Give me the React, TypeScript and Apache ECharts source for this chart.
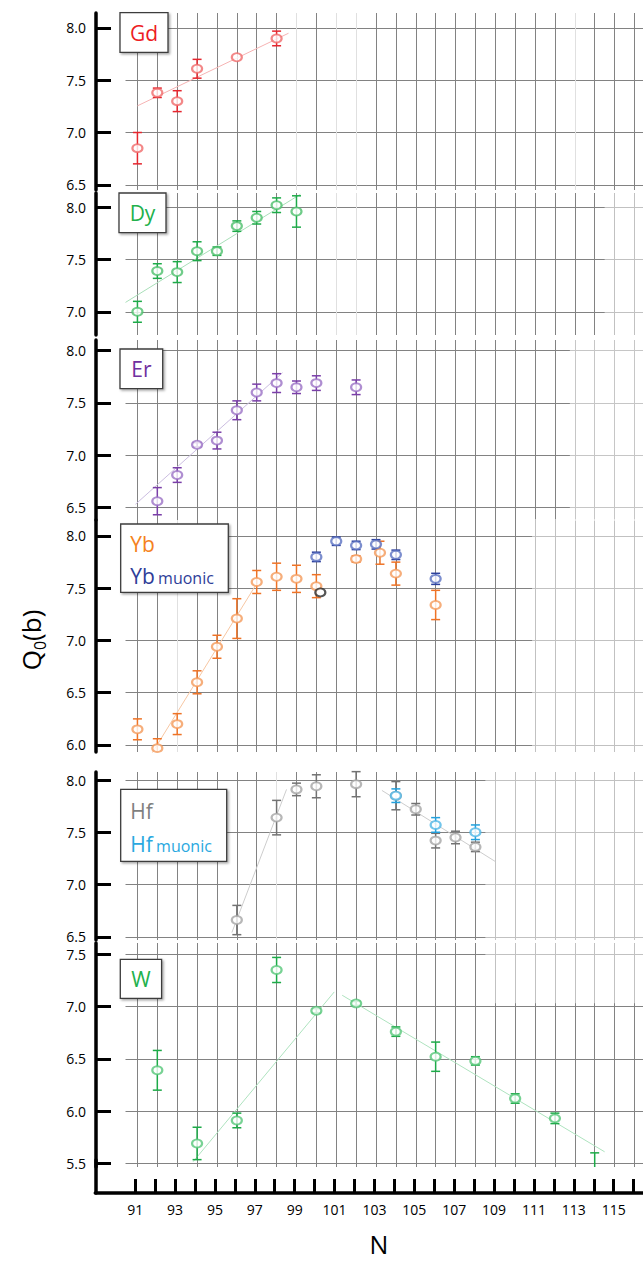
import React, { useEffect, useRef } from "react";
import * as echarts from "echarts";

const FONT = "'Open Sans', 'Noto Sans', 'DejaVu Sans', sans-serif";

// ---- Gd ----
const gdN = [91, 92, 93, 94, 96, 98];
const gdQ = [6.85, 7.38, 7.3, 7.61, 7.72, 7.9];
const gdErr = [0.15, 0.045, 0.1, 0.09, 0, 0.07];
const gdFit = [[91, 7.255], [98.6, 7.95]];

// ---- Dy ----
const dyN = [91, 92, 93, 94, 95, 96, 97, 98, 99];
const dyQ = [7.0, 7.39, 7.38, 7.58, 7.58, 7.82, 7.9, 8.02, 7.96];
const dyErr = [0.1, 0.07, 0.1, 0.09, 0.04, 0.05, 0.06, 0.07, 0.15];
const dyFit = [[90.4, 7.09], [99.2, 8.125]];

// ---- Er ----
const erN = [92, 93, 94, 95, 96, 97, 98, 99, 100, 102];
const erQ = [6.56, 6.81, 7.1, 7.14, 7.43, 7.6, 7.69, 7.65, 7.69, 7.65];
const erErr = [0.13, 0.07, 0.02, 0.08, 0.09, 0.08, 0.09, 0.06, 0.07, 0.07];
const erFit = [[90.9, 6.53], [98.3, 7.79]];

// ---- Yb ----
const ybN = [91, 92, 93, 94, 95, 96, 97, 98, 99, 100, 102, 103.2, 104, 106];
const ybQ = [6.15, 5.97, 6.2, 6.6, 6.94, 7.21, 7.56, 7.61, 7.59, 7.52, 7.78, 7.84, 7.64, 7.34];
const ybErr = [0.1, 0.09, 0.1, 0.11, 0.11, 0.19, 0.11, 0.13, 0.13, 0.11, 0.03, 0.11, 0.11, 0.14];
const ybMuN = [100, 101, 102, 103, 104, 106];
const ybMuQ = [7.8, 7.95, 7.91, 7.92, 7.82, 7.59];
const ybMuErr = [0.045, 0.04, 0.04, 0.045, 0.045, 0.053];
const ybExtraN = [100.2];
const ybExtraQ = [7.46];
const ybExtraErr = [0];
const ybFit = [[91.6, 5.88], [96.95, 7.53]];

// ---- Hf ----
const hfN = [96, 98, 99, 100, 102, 104, 105, 106, 107, 108];
const hfQ = [6.66, 7.64, 7.91, 7.94, 7.96, 7.85, 7.72, 7.42, 7.45, 7.36];
const hfErr = [0.14, 0.165, 0.06, 0.11, 0.12, 0.135, 0.055, 0.07, 0.06, 0.045];
const hfMuN = [104, 106, 108];
const hfMuQ = [7.85, 7.57, 7.5];
const hfMuErr = [0.065, 0.07, 0.07];
const hfFitA = [[95.75, 6.54], [98.5, 7.91]];
const hfFitB = [[103.3, 7.9], [109, 7.22]];

// ---- W ----
const wN = [92, 94, 96, 98, 100, 102, 104, 106, 108, 110, 112, 114];
const wQ = [6.39, 5.69, 5.91, 7.35, 6.96, 7.03, 6.76, 6.52, 6.48, 6.12, 5.93, 5.45];
const wErr = [0.19, 0.155, 0.07, 0.12, 0.02, 0.02, 0.045, 0.14, 0.04, 0.045, 0.05, 0.15];
const wFitA = [[93.8, 5.515], [100.9, 7.14]];
const wFitB = [[101.3, 7.108], [114.5, 5.61]];

// ---- axis ticks ----
const nTicks = [91, 92, 93, 94, 95, 96, 97, 98, 99, 100, 101, 102, 103, 104, 105, 106, 107, 108, 109, 110, 111, 112, 113, 114, 115, 116];
const nLabels = [91, 93, 95, 97, 99, 101, 103, 105, 107, 109, 111, 113, 115];
const qTicksHigh = [6.5, 7.0, 7.5, 8.0];
const qTicksDy = [7.0, 7.5, 8.0];
const qTicksYb = [6.0, 6.5, 7.0, 7.5, 8.0];
const qTicksW = [5.5, 6.0, 6.5, 7.0, 7.5];

const N_MIN = 90.4;
const N_MAX = 116.43;
const PANEL_LEFT = 125.5;
const AXIS_X = 96;
const GRID_COLOR = "#828282";
const FAINT_COLOR = "#e0e0e0";

type DataSet = { n: number[]; q: number[]; e: number[]; bar: string; ring: string };
type Panel = {
  top: number;
  height: number;
  min: number;
  max: number;
  ticks: number[];
  faintN: number[];
  sets: DataSet[];
  fits: number[][][];
  fitColor: string;
};

const panels: Panel[] = [
  {
    top: 13, height: 177, min: 6.4498, max: 8.1435, ticks: qTicksHigh, faintN: [99, 101, 102, 113],
    sets: [{ n: gdN, q: gdQ, e: gdErr, bar: "#e5262e", ring: "#f06a6a" }],
    fits: [gdFit], fitColor: "#f6b3b3",
  },
  {
    top: 193, height: 142, min: 6.778, max: 8.1368, ticks: qTicksDy, faintN: [101, 102],
    sets: [{ n: dyN, q: dyQ, e: dyErr, bar: "#1daa48", ring: "#4cbf6c" }],
    fits: [dyFit], fitColor: "#a9dfb9",
  },
  {
    top: 340, height: 180, min: 6.38, max: 8.1024, ticks: qTicksHigh, faintN: [],
    sets: [{ n: erN, q: erQ, e: erErr, bar: "#7a3fa8", ring: "#9b72c6" }],
    fits: [erFit], fitColor: "#cbbde0",
  },
  {
    top: 520, height: 232, min: 5.933, max: 8.1531, ticks: qTicksYb, faintN: [93],
    sets: [
      { n: ybN, q: ybQ, e: ybErr, bar: "#ee7326", ring: "#f49a5a" },
      { n: ybMuN, q: ybMuQ, e: ybMuErr, bar: "#2d419c", ring: "#5b72c2" },
      { n: ybExtraN, q: ybExtraQ, e: ybExtraErr, bar: "#222222", ring: "#2a2a2a" },
    ],
    fits: [ybFit], fitColor: "#f7c7a3",
  },
  {
    top: 772, height: 168, min: 6.4689, max: 8.0766, ticks: qTicksHigh, faintN: [98],
    sets: [
      { n: hfN, q: hfQ, e: hfErr, bar: "#727272", ring: "#a5a5a5" },
      { n: hfMuN, q: hfMuQ, e: hfMuErr, bar: "#23a0dc", ring: "#4fb6e6" },
    ],
    fits: [hfFitA, hfFitB], fitColor: "#cdcdcd",
  },
  {
    top: 943, height: 224, min: 5.4646, max: 7.6081, ticks: qTicksW, faintN: [],
    sets: [{ n: wN, q: wQ, e: wErr, bar: "#1daa48", ring: "#56c779" }],
    fits: [wFitA, wFitB], fitColor: "#aee3bf",
  },
];

// Faded stretches of the grid: [panel, N from, N to, opacity, Q from?, Q to?]
const fadeBands: [number, number, number, number, number?, number?][] = [
  [1, 114.5, N_MAX, 0.5],
  [2, 112.75, N_MAX, 0.55],
  [3, 110.85, N_MAX, 0.5],
  [4, 108.5, N_MAX, 0.5],
  [5, 108.5, N_MAX, 0.5, 7.04, 7.6081],
];

const errorBarItem = (color: string, lo: number) => (params: any, api: any) => {
  const n = api.value(0);
  const q = api.value(1);
  const e = api.value(2);
  if (!e) return null;
  const low = Math.max(q - e, lo);
  const top = api.coord([n, q + e]);
  const bot = api.coord([n, low]);
  const hw = 4.5;
  const style = { stroke: color, lineWidth: 1.5 };
  const children: any[] = [
    { type: "line", shape: { x1: top[0], y1: top[1], x2: bot[0], y2: bot[1] }, style },
    { type: "line", shape: { x1: top[0] - hw, y1: top[1], x2: top[0] + hw, y2: top[1] }, style },
  ];
  if (q - e >= lo) {
    children.push({ type: "line", shape: { x1: bot[0] - hw, y1: bot[1], x2: bot[0] + hw, y2: bot[1] }, style });
  }
  return { type: "group", children };
};

function buildOption() {
  const grid: any[] = [];
  const xAxis: any[] = [];
  const yAxis: any[] = [];
  const series: any[] = [];

  panels.forEach((p, i) => {
    grid.push({ left: PANEL_LEFT, right: 0, top: p.top, height: p.height });
    xAxis.push({
      type: "value",
      gridIndex: i,
      min: N_MIN,
      max: N_MAX,
      axisLine: { show: false },
      axisTick: { show: false, customValues: nTicks },
      axisLabel: { show: false, customValues: nTicks },
      splitLine: {
        show: true,
        lineStyle: {
          color: nTicks.map((n) => (p.faintN.includes(n) ? FAINT_COLOR : GRID_COLOR)),
          width: 1,
        },
      },
    });
    yAxis.push({
      type: "value",
      gridIndex: i,
      min: p.min,
      max: p.max,
      offset: PANEL_LEFT - AXIS_X,
      axisLine: { show: true, onZero: false, lineStyle: { color: "#000", width: 3.5 } },
      axisTick: { show: true, inside: true, length: 15, lineStyle: { color: "#000", width: 3 }, customValues: p.ticks },
      axisLabel: {
        customValues: p.ticks,
        formatter: (v: number) => v.toFixed(1),
        fontSize: 14,
        color: "#000",
        margin: 10,
        fontFamily: FONT,
      },
      splitLine: { show: true, lineStyle: { color: GRID_COLOR, width: 1 } },
    });

    p.fits.forEach((f) => {
      series.push({
        type: "line",
        xAxisIndex: i,
        yAxisIndex: i,
        data: f,
        showSymbol: false,
        symbol: "none",
        silent: true,
        z: 2,
        lineStyle: { color: p.fitColor, width: 1 },
      });
    });

    p.sets.forEach((s) => {
      series.push({
        type: "custom",
        xAxisIndex: i,
        yAxisIndex: i,
        z: 3,
        silent: true,
        encode: { x: 0, y: 1 },
        renderItem: errorBarItem(s.bar, p.min),
        data: s.n.map((n, k) => [n, s.q[k], s.e[k]]),
      });
      series.push({
        type: "scatter",
        xAxisIndex: i,
        yAxisIndex: i,
        z: 4,
        silent: true,
        symbol: "emptyCircle",
        symbolSize: [10, 8],
        itemStyle: { color: s.ring, borderWidth: 1 },
        data: s.n.map((n, k) => [n, s.q[k]]),
      });
    });
  });

  // shared N axis at the bottom
  const bi = panels.length;
  grid.push({ left: 95.3, right: 0, top: 1160, height: 33 });
  xAxis.push({
    type: "value",
    gridIndex: bi,
    min: 89,
    max: 116.47,
    position: "bottom",
    axisLine: { show: true, onZero: false, lineStyle: { color: "#000", width: 3.5 } },
    axisTick: { show: true, inside: true, length: 14, lineStyle: { color: "#000", width: 3 }, customValues: nTicks },
    axisLabel: { customValues: nLabels, fontSize: 14, color: "#000", margin: 9, fontFamily: FONT },
    splitLine: { show: false },
  });
  yAxis.push({
    type: "value",
    gridIndex: bi,
    min: 0,
    max: 1,
    axisLine: { show: true, onZero: false, lineStyle: { color: "#000", width: 3.5 } },
    axisTick: { show: false },
    axisLabel: { show: false },
    splitLine: { show: false },
  });

  return { animation: false, backgroundColor: "#fff", grid, xAxis, yAxis, series };
}

const boxStyle = {
  fill: "#fff",
  stroke: "#3c3c3c",
  lineWidth: 1.3,
  shadowBlur: 2,
  shadowOffsetX: 1.5,
  shadowOffsetY: 1.5,
  shadowColor: "rgba(0,0,0,0.35)",
};

function simpleLabel(x: number, y: number, w: number, h: number, text: string, color: string) {
  return [
    { type: "rect", z: 10, shape: { x, y, width: w, height: h }, style: boxStyle },
    {
      type: "text",
      z: 11,
      x: x + w / 2,
      y: y + h / 2,
      style: { text, fill: color, fontSize: 21, fontFamily: FONT, align: "center", verticalAlign: "middle" },
    },
  ];
}

function pairLabel(x: number, y: number, w: number, h: number, name: string, c1: string, c2: string) {
  return [
    { type: "rect", z: 10, shape: { x, y, width: w, height: h }, style: boxStyle },
    {
      type: "text",
      z: 11,
      x: x + 9.5,
      y: y + h * 0.3,
      style: { text: name, fill: c1, fontSize: 21, fontFamily: FONT, align: "left", verticalAlign: "middle" },
    },
    {
      type: "text",
      z: 11,
      x: x + 9.5,
      y: y + h * 0.72,
      style: {
        text: `{b|${name}} {s|muonic}`,
        align: "left",
        verticalAlign: "middle",
        rich: {
          b: { fontSize: 21, fontFamily: FONT, fill: c2, color: c2, verticalAlign: "bottom", lineHeight: 26 },
          s: { fontSize: 16, fontFamily: FONT, fill: c2, color: c2, verticalAlign: "bottom", lineHeight: 26 },
        },
      },
    },
  ];
}

function buildGraphics(chart: any) {
  const els: any[] = [];
  fadeBands.forEach(([pi, n0, n1, op, v0, v1]) => {
    const p = panels[pi];
    const lo = v0 === undefined ? p.min : v0;
    const hi = v1 === undefined ? p.max : v1;
    const a = chart.convertToPixel({ gridIndex: pi }, [n0, hi]);
    const b = chart.convertToPixel({ gridIndex: pi }, [n1, lo]);
    els.push({
      type: "rect",
      z: 1,
      silent: true,
      shape: { x: a[0], y: a[1] - 1, width: b[0] - a[0], height: b[1] - a[1] + 2 },
      style: { fill: `rgba(255,255,255,${op})` },
    });
  });

  els.push(...simpleLabel(120, 12.7, 48, 39.6, "Gd", "#ed1c24"));
  els.push(...simpleLabel(119, 193, 47, 39.7, "Dy", "#22b14c"));
  els.push(...simpleLabel(120, 349, 42.7, 39.7, "Er", "#7030a0"));
  els.push(...pairLabel(120.7, 524, 107.6, 68.3, "Yb", "#f58220", "#2e3d98"));
  els.push(...pairLabel(120.7, 789.3, 106, 72, "Hf", "#7f7f7f", "#29a8e0"));
  els.push(...simpleLabel(120.3, 959.3, 41.3, 39, "W", "#22b14c"));

  // axis titles
  els.push({
    type: "text",
    z: 11,
    x: 31,
    y: 640,
    rotation: Math.PI / 2,
    style: {
      text: "{q|Q}{s|0}{q|(b)}",
      align: "center",
      verticalAlign: "middle",
      rich: {
        q: { fontSize: 26, fontFamily: FONT, fill: "#000", color: "#000", verticalAlign: "middle", lineHeight: 34 },
        s: { fontSize: 16, fontFamily: FONT, fill: "#000", color: "#000", verticalAlign: "bottom", lineHeight: 34 },
      },
    },
  });
  els.push({
    type: "text",
    z: 11,
    x: 379,
    y: 1244,
    style: { text: "N", fontSize: 25, fontFamily: FONT, fill: "#000", align: "center", verticalAlign: "middle" },
  });
  return els;
}

export default function App() {
  const ref = useRef<HTMLDivElement>(null);
  useEffect(() => {
    if (!ref.current) return;
    const chart = echarts.init(ref.current, null, { renderer: "svg", width: 643, height: 1264 });
    chart.setOption(buildOption());
    chart.setOption({ graphic: buildGraphics(chart) });
    return () => chart.dispose();
  }, []);
  return (
    <div
      ref={ref}
      style={{ position: "absolute", left: 0, top: 0, width: 643, height: 1264, background: "#fff" }}
    />
  );
}
